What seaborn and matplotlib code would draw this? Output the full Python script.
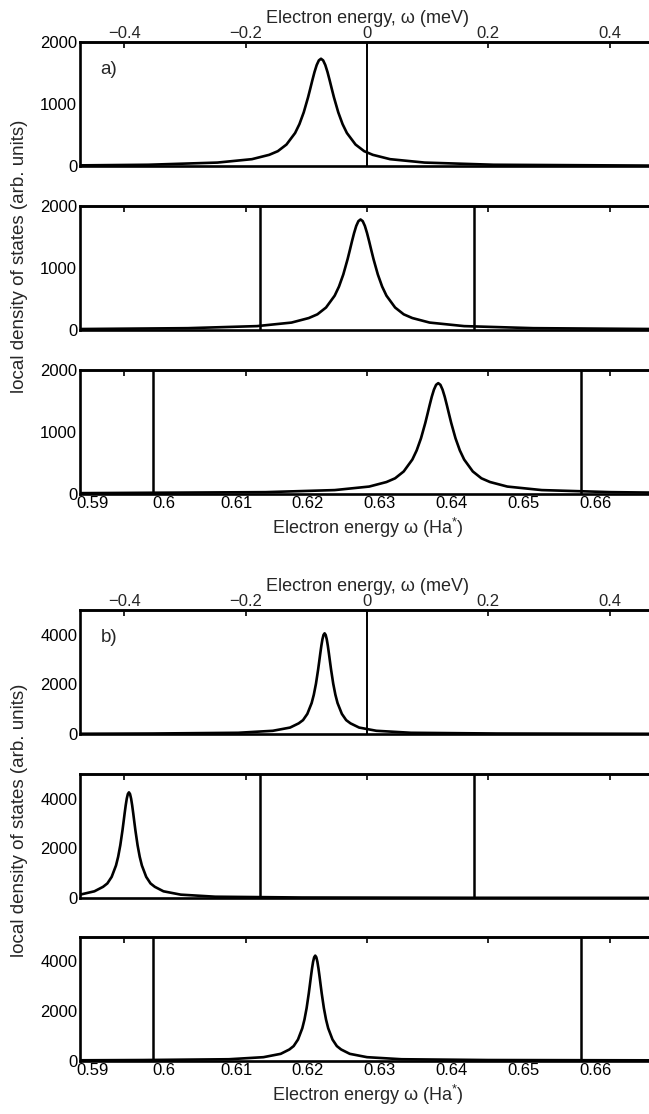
import matplotlib
matplotlib.use("Agg")
import matplotlib.pyplot as plt
import seaborn as sns

# ── Data (energies in Ha*, densities in arb. units) ───────────────────────
OMEGA0 = 0.6282          # zero of the meV scale
HA_TO_MEV = 11.86
XLIM = (0.5883, 0.6683)

a1_x = [0.5883, 0.5978, 0.6074, 0.6122, 0.6146, 0.6158, 0.6170, 0.6182, 0.6188, 0.6194,
        0.6200, 0.6203, 0.6206, 0.6209, 0.6212, 0.6215, 0.6218, 0.6221, 0.6224, 0.6227,
        0.6230, 0.6233, 0.6236, 0.6242, 0.6248, 0.6254, 0.6266, 0.6278, 0.6290, 0.6314,
        0.6362, 0.6458, 0.6683]
a1_y = [10, 20, 55, 110, 180, 239, 346, 532, 675, 865,
        1107, 1244, 1384, 1517, 1628, 1703, 1730, 1703, 1628, 1517,
        1384, 1244, 1107, 865, 675, 532, 346, 239, 180, 110,
        55, 20, 6]

a2_x = [0.5883, 0.6033, 0.6129, 0.6177, 0.6201, 0.6213, 0.6225, 0.6237, 0.6243, 0.6249,
        0.6255, 0.6258, 0.6261, 0.6264, 0.6267, 0.6270, 0.6273, 0.6276, 0.6279, 0.6282,
        0.6285, 0.6288, 0.6291, 0.6297, 0.6303, 0.6309, 0.6321, 0.6333, 0.6345, 0.6369,
        0.6417, 0.6513, 0.6683]
a2_y = [8, 22, 55, 112, 185, 245, 355, 546, 693, 888,
        1136, 1276, 1420, 1556, 1671, 1748, 1775, 1748, 1671, 1556,
        1420, 1276, 1136, 888, 693, 546, 355, 245, 185, 112,
        55, 22, 8]

a3_x = [0.5883, 0.6141, 0.6237, 0.6285, 0.6309, 0.6321, 0.6333, 0.6345, 0.6351, 0.6357,
        0.6363, 0.6366, 0.6369, 0.6372, 0.6375, 0.6378, 0.6381, 0.6384, 0.6387, 0.6390,
        0.6393, 0.6396, 0.6399, 0.6405, 0.6411, 0.6417, 0.6429, 0.6441, 0.6453, 0.6477,
        0.6525, 0.6621, 0.6683]
a3_y = [6, 22, 55, 112, 185, 245, 356, 548, 695, 890,
        1139, 1280, 1424, 1561, 1675, 1753, 1780, 1753, 1675, 1561,
        1424, 1280, 1139, 890, 695, 548, 356, 245, 185, 112,
        55, 22, 14]

b1_x = [0.5883, 0.5983, 0.6103, 0.6151, 0.6175, 0.6187, 0.6193, 0.6199, 0.6205, 0.6208,
        0.6211, 0.6214, 0.62155, 0.6217, 0.62185, 0.6220, 0.62215, 0.6223, 0.62245, 0.6226,
        0.62275, 0.6229, 0.62305, 0.6232, 0.6235, 0.6238, 0.6241, 0.6247, 0.6253, 0.6259,
        0.6271, 0.6295, 0.6343, 0.6463, 0.6683]
b1_y = [10, 20, 50, 130, 260, 430, 560, 812, 1249, 1584,
        2030, 2598, 2920, 3248, 3559, 3821, 3997, 4060, 3997, 3821,
        3559, 3248, 2920, 2598, 2030, 1584, 1249, 812, 560, 430,
        260, 130, 50, 20, 8]

b2_x = [0.5883, 0.5903, 0.5915, 0.5921, 0.5927, 0.5933, 0.5936, 0.5939, 0.5942, 0.59435,
        0.5945, 0.59465, 0.5948, 0.59495, 0.5951, 0.59525, 0.5954, 0.59555, 0.5957, 0.59585,
        0.5960, 0.5963, 0.5966, 0.5969, 0.5975, 0.5981, 0.5987, 0.5999, 0.6023, 0.6071,
        0.6191, 0.6431, 0.6683]
b2_y = [135, 270, 450, 587, 852, 1311, 1662, 2130, 2726, 3063,
        3408, 3735, 4009, 4194, 4260, 4194, 4009, 3735, 3408, 3063,
        2726, 2130, 1662, 1311, 852, 587, 450, 270, 135, 52,
        20, 8, 5]

b3_x = [0.5883, 0.5970, 0.6090, 0.6138, 0.6162, 0.6174, 0.6180, 0.6186, 0.6192, 0.6195,
        0.6198, 0.6201, 0.62025, 0.6204, 0.62055, 0.6207, 0.62085, 0.6210, 0.62115, 0.6213,
        0.62145, 0.6216, 0.62175, 0.6219, 0.6222, 0.6225, 0.6228, 0.6234, 0.6240, 0.6246,
        0.6258, 0.6282, 0.6330, 0.6450, 0.6683]
b3_y = [10, 20, 52, 135, 270, 445, 583, 846, 1302, 1651,
        2115, 2707, 3042, 3384, 3708, 3981, 4165, 4230, 4165, 3981,
        3708, 3384, 3042, 2707, 2115, 1651, 1302, 846, 583, 445,
        270, 135, 52, 20, 8]

# vertical marker lines (Ha*) for the three rows
row_lines = [[0.6282], [0.6133, 0.6431], [0.5984, 0.6580]]

ha_ticks = [0.59, 0.60, 0.61, 0.62, 0.63, 0.64, 0.65, 0.66]
ha_labels = ["0.59", "0.6", "0.61", "0.62", "0.63", "0.64", "0.65", "0.66"]
mev_ticks = [-0.4, -0.2, 0, 0.2, 0.4]
mev_labels = ["\u22120.4", "\u22120.2", "0", "0.2", "0.4"]

groups = [
    {"tag": "a)", "ymax": 2000, "yticks": [0, 1000, 2000],
     "series": [(a1_x, a1_y), (a2_x, a2_y), (a3_x, a3_y)],
     "bottoms": [0.8510, 0.7042, 0.5570], "ylab_y": 0.770},
    {"tag": "b)", "ymax": 5000, "yticks": [0, 2000, 4000],
     "series": [(b1_x, b1_y), (b2_x, b2_y), (b3_x, b3_y)],
     "bottoms": [0.3411, 0.1939, 0.0480], "ylab_y": 0.264},
]

# ── Style ─────────────────────────────────────────────────────────────────
sns.set_style("white")
plt.rcParams["font.family"] = ["Liberation Sans", "DejaVu Sans"]
plt.rcParams["mathtext.fontset"] = "custom"
plt.rcParams["mathtext.rm"] = "Liberation Sans"
TICK_FS = 12
LAB_FS = 13

LEFT, WIDTH, HEIGHT = 0.1233, 0.8867, 0.1113


def to_mev(x):
    return (x - OMEGA0) * HA_TO_MEV


def to_ha(m):
    return m / HA_TO_MEV + OMEGA0


fig = plt.figure(figsize=(6.49, 11.14), dpi=100)

for g in groups:
    for row, ((xs, ys), bottom) in enumerate(zip(g["series"], g["bottoms"])):
        ax = fig.add_axes([LEFT, bottom, WIDTH, HEIGHT])
        sns.lineplot(x=xs, y=ys, ax=ax, color="black", lw=1.9,
                     estimator=None, sort=False)
        for xv in row_lines[row]:
            ax.axvline(xv, color="black", lw=1.4 if row == 0 else 1.8)

        ax.set_xlim(*XLIM)
        ax.set_ylim(0, g["ymax"])
        ax.set_yticks(g["yticks"])
        ax.set_yticklabels([str(t) for t in g["yticks"]], fontsize=TICK_FS)
        ax.set_xticks(ha_ticks)
        if row == 2:
            ax.set_xticklabels(ha_labels, fontsize=TICK_FS)
            ax.set_xlabel("Electron energy \u03c9 (Ha$^{*}$)", fontsize=LAB_FS, labelpad=3)
        else:
            ax.set_xticklabels([])
        ax.tick_params(direction="in", length=4, width=1.4, pad=2,
                       right=True, top=False, colors="black")
        for sp in ax.spines.values():
            sp.set_linewidth(1.9)
            sp.set_color("black")

        sec = ax.secondary_xaxis("top", functions=(to_mev, to_ha))
        sec.set_xticks(mev_ticks)
        sec.tick_params(direction="in", length=4, width=1.4, pad=1)
        if row == 0:
            sec.set_xticklabels(mev_labels, fontsize=TICK_FS)
            sec.set_xlabel("Electron energy, \u03c9 (meV)", fontsize=LAB_FS, labelpad=2)
            ax.text(0.036, 0.78, g["tag"], transform=ax.transAxes,
                    fontsize=LAB_FS + 0.5, va="center", ha="left")
        else:
            sec.set_xticklabels([])
        sec.spines["top"].set_linewidth(1.9)

    fig.text(0.030, g["ylab_y"], "local density of states (arb. units)",
             rotation=90, va="center", ha="center", fontsize=LAB_FS + 0.5)

fig.savefig("out.png", dpi=100)
plt.close(fig)
